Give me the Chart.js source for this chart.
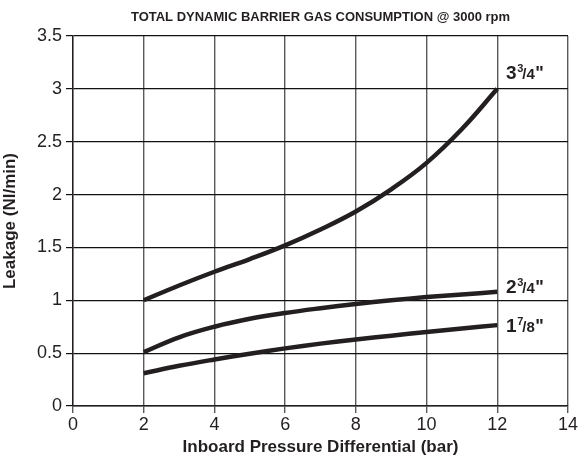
<!DOCTYPE html>
<html>
<head>
<meta charset="utf-8">
<script src="https://cdn.jsdelivr.net/npm/chart.js@4/dist/chart.umd.min.js"></script>
<style>
  html, body { margin: 0; padding: 0; background: #fff; }
  #wrap { width: 579px; height: 458px; }
</style>
</head>
<body>
<div id="wrap"><canvas id="myChart" width="579" height="458"></canvas></div>
<script>
// data
const pressure = [2, 3, 4, 5, 6, 7, 8, 9, 10, 11, 12];
const leak334 = [1.0, 1.14, 1.27, 1.39, 1.52, 1.67, 1.84, 2.05, 2.30, 2.62, 3.0];
const leak234 = [0.51, 0.65, 0.75, 0.825, 0.88, 0.925, 0.965, 1.0, 1.03, 1.055, 1.08];
const leak178 = [0.31, 0.38, 0.44, 0.495, 0.545, 0.59, 0.63, 0.665, 0.70, 0.733, 0.765];

const xTickLabels = ['0', '2', '4', '6', '8', '10', '12', '14'];
const yTickLabels = ['0', '0.5', '1', '1.5', '2', '2.5', '3', '3.5'];

// curve names: whole part, numerator, denominator; placed next to each curve end
const curveNames = [
    { whole: '3', num: '3', den: '4', x: 12.25, y: 3.09 },
    { whole: '2', num: '3', den: '4', x: 12.25, y: 1.07 },
    { whole: '1', num: '7', den: '8', x: 12.25, y: 0.70 },
];

const FONT = "'Liberation Sans Narrow', 'Liberation Sans', Arial, sans-serif";
const INK = '#231f20';

const toPoints = (ys) => pressure.map((x, i) => ({ x, y: ys[i] }));

const curveLabels = {
    id: 'curveLabels',
    afterDatasetsDraw(chart) {
        const { ctx, scales: { x, y } } = chart;
        ctx.save();
        ctx.fillStyle = INK;
        ctx.textBaseline = 'alphabetic';
        ctx.textAlign = 'left';
        curveNames.forEach((c) => {
            let px = x.getPixelForValue(c.x);
            const py = y.getPixelForValue(c.y);
            ctx.font = 'bold 19px ' + FONT;
            ctx.fillText(c.whole, px, py);
            px += ctx.measureText(c.whole).width;
            ctx.font = 'bold 11px ' + FONT;
            ctx.fillText(c.num, px + 0.5, py - 7);
            px += ctx.measureText(c.num).width - 0.5;
            ctx.font = 'bold 15px ' + FONT;
            ctx.fillText('/' + c.den, px, py);
            px += ctx.measureText('/' + c.den).width + 0.5;
            ctx.font = 'bold 18px ' + FONT;
            ctx.fillText('"', px, py);
        });
        ctx.restore();
    }
};

const line = (data) => ({
    data: toPoints(data),
    borderColor: INK,
    borderWidth: 4.5,
    pointRadius: 0,
    fill: false,
    tension: 0.4,
    borderCapStyle: 'butt',
});

new Chart(document.getElementById('myChart'), {
    type: 'line',
    data: {
        datasets: [line(leak334), line(leak234), line(leak178)]
    },
    plugins: [curveLabels],
    options: {
        responsive: false,
        animation: false,
        layout: { padding: { left: 0, right: 10, top: 0, bottom: 0 } },
        plugins: {
            legend: { display: false },
            tooltip: { enabled: false },
            title: {
                display: true,
                fullSize: false,
                text: 'TOTAL DYNAMIC BARRIER GAS CONSUMPTION @ 3000 rpm',
                color: INK,
                font: { family: FONT, size: 13, weight: 'bold', lineHeight: 1.2 },
                padding: { top: 10, bottom: 10.4 },
            },
        },
        scales: {
            x: {
                type: 'linear',
                min: 0,
                max: 14,
                afterFit: (s) => { s.height = 52; },
                ticks: {
                    stepSize: 2,
                    color: INK,
                    padding: 1,
                    font: { family: FONT, size: 18 },
                    callback: (v, i) => xTickLabels[i],
                },
                grid: { color: '#5a5a5a', lineWidth: 1.4, tickLength: 7 },
                border: { color: INK, width: 1.4 },
                title: {
                    display: true,
                    text: 'Inboard Pressure Differential (bar)',
                    color: INK,
                    font: { family: FONT, size: 17, weight: 'bold' },
                    padding: { top: 0, bottom: 0 },
                },
            },
            y: {
                min: 0,
                max: 3.5,
                afterFit: (s) => { s.width = 73; },
                ticks: {
                    stepSize: 0.5,
                    color: INK,
                    padding: 4,
                    font: { family: FONT, size: 18 },
                    callback: (v, i) => yTickLabels[i],
                },
                grid: { color: '#111', lineWidth: 1.2, tickLength: 7 },
                border: { color: INK, width: 1.4 },
                title: {
                    display: true,
                    text: 'Leakage (Nl/min)',
                    color: INK,
                    font: { family: FONT, size: 17, weight: 'bold' },
                    padding: { top: 0, bottom: 2 },
                },
            },
        },
    },
});
</script>
</body>
</html>
